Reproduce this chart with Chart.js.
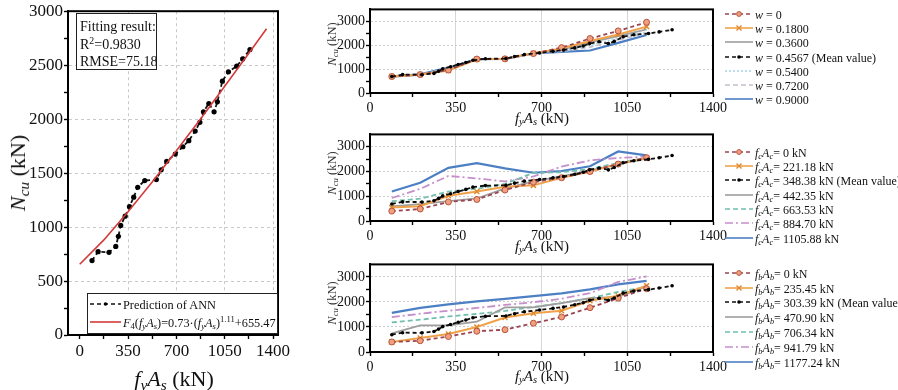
<!DOCTYPE html>
<html><head><meta charset="utf-8">
<script src="https://cdn.jsdelivr.net/npm/chart.js@4.4.0/dist/chart.umd.min.js"></script>
<style>
body{margin:0;width:898px;height:390px;background:#fff;position:relative;overflow:hidden;font-family:'Liberation Serif','Times New Roman',serif;color:#111;}
canvas{position:absolute;}
.t{position:absolute;white-space:nowrap;line-height:1;}
sub,sup{font-size:70%;line-height:0;}
sub{vertical-align:-0.25em;}
sup{vertical-align:0.55em;}
.rot{transform:translate(-50%,-50%) rotate(-90deg);}
.ctr{transform:translate(-50%,-50%);}
.box{position:absolute;border:1.5px solid #222;background:#fff;box-sizing:border-box;}
.leg{position:absolute;font-size:12px;white-space:nowrap;}
.leg svg{position:absolute;left:0;top:-5px;}
.leg span{position:absolute;left:30px;top:-6px;}
</style></head><body>
<canvas id="cL" width="300" height="390" style="left:0;top:0"></canvas>
<canvas id="cT" width="400" height="125" style="left:330px;top:0"></canvas>
<canvas id="cM" width="400" height="130" style="left:330px;top:125px"></canvas>
<canvas id="cB" width="400" height="135" style="left:330px;top:255px"></canvas>
<div id="ov"></div>
<script>
// ---------- DATA ----------
// Left panel: ANN prediction (also the "mean value" curve in every right panel)
const annX = [89,133,212,261,280,297,329,360,391,420,471,555,590,630,692,747,790,836,870,896,935,973,997,1033,1077,1137,1180,1233];
const annY = [690,772,766,821,914,1015,1101,1190,1277,1369,1431,1440,1530,1610,1676,1744,1800,1889,1970,2068,2145,2068,2160,2352,2438,2491,2558,2645];
// Left panel: fitted curve
const fitX = [0,175,350,525,700,875,1050,1225,1353];
const fitY = [655,881,1142,1418,1707,2001,2304,2611,2837];
// Right panels: common x positions (kN)
const gridX = [89,205,320,436,551,667,782,898,1013,1129];
// Top panel (w)
const topW0    = [690,770,960,1420,1430,1650,1900,2280,2600,2960];
const topW018  = [690,770,940,1410,1430,1660,1860,2180,2450,2780];
const topW036  = [680,760,1000,1420,1430,1650,1820,2120,2380,2660];
const topW054  = [680,760,1030,1420,1430,1650,1760,2000,2300,2560];
const topW072  = [680,760,1040,1420,1430,1650,1740,1920,2220,2500];
const topW090  = [700,780,1060,1420,1430,1660,1720,1780,2100,2430];
const topLabels = ['0','0.1800','0.3600','0.4567 (Mean value)','0.5400','0.7200','0.9000'];
// Middle panel (fcAc)
const midFc0    = [400,485,770,870,1250,1570,1750,2000,2300,2560];
const midFc221  = [550,600,1020,1190,1380,1440,1750,2000,2300,2550];
const midFc442  = [590,680,800,910,1320,1600,1800,2050,2300,2520];
const midFc664  = [800,900,1190,1300,1500,1950,1970,2100,2350,2560];
const midFc885  = [930,1300,1820,1720,1600,1800,2200,2450,2550,2600];
const midFc1106 = [1190,1545,2150,2340,2130,1950,2020,2210,2810,2650];
const midLabels = ['0 kN','221.18 kN','348.38 kN (Mean value)','442.35 kN','663.53 kN','884.70 kN','1105.88 kN'];
// Bottom panel (fbAb)
const botFb0    = [400,450,620,830,890,1150,1400,1770,2150,2530];
const botFb235  = [400,560,720,1000,1380,1550,1650,2050,2250,2650];
const botFb471  = [740,1060,1060,1210,1780,1780,1950,2150,2200,2620];
const botFb706  = [1180,1290,1420,1520,1640,1800,1950,2150,2400,2600];
const botFb942  = [1390,1530,1650,1760,1880,1990,2130,2350,2800,3020];
const botFb1177 = [1560,1760,1900,2020,2120,2230,2340,2500,2700,2840];
const botLabels = ['0 kN','235.45 kN','303.39 kN (Mean value)','470.90 kN','706.34 kN','941.79 kN','1177.24 kN'];
// Axis ticks
const leftXTicks = [0,175,350,525,700,875,1050,1225,1400];
const leftYTicks = [0,250,500,750,1000,1250,1500,1750,2000,2250,2500,2750,3000];
const rightXTicks = [0,175,350,525,700,875,1050,1225,1400];
const rightYTicks = [0,500,1000,1500,2000,2500,3000];

// ---------- STYLES ----------
const F = "'Liberation Serif','Times New Roman',serif";
const ST = {
  brown:{color:'#9a4450',dash:[4,3],width:1.8,marker:'circle',fill:'#f0a07c'},
  orange:{color:'#f0a24a',dash:[],width:2,marker:'cross'},
  gray:{color:'#9e9e9e',dash:[],width:1.8},
  mean:{color:'#111',dash:[4,3],width:1.8,marker:'dot'},
  lblue:{color:'#a9d3e6',dash:[2,2],width:1.6},
  lgray:{color:'#c7bfcb',dash:[5,3],width:1.6},
  teal:{color:'#72bfae',dash:[5,3],width:1.8},
  pink:{color:'#c58fcc',dash:[8,3,2,3],width:1.8},
  blue:{color:'#4d7fc4',dash:[],width:2.2}
};

const frame = {id:'frame', afterDraw(c,a,o){const {ctx,chartArea:r}=c;ctx.save();ctx.strokeStyle='#000';ctx.lineWidth=o.w||2;ctx.strokeRect(r.left,r.top,r.right-r.left,r.bottom-r.top);ctx.restore();}};

function axis(opts){
  const {min,max,ticks,major,font,tl,pad,size,isX,gridColor,dash} = opts;
  return {type:'linear',min,max,bounds:'data',
    afterBuildTicks:s=>{s.ticks=ticks.map(v=>({value:v}));},
    afterFit:s=>{ if(isX) s.height=size; else s.width=size; },
    ticks:{autoSkip:false,maxRotation:0,minRotation:0,padding:pad,color:'#111',font:{family:F,size:font},
      callback:v=>(v%major===0?String(v):'')},
    grid:{drawTicks:true,tickLength:tl,tickWidth:1.4,tickColor:'#000',tickBorderDash:[],lineWidth:1,
      color:ctx=>(ctx.tick && ctx.tick.value%major===0 && ctx.tick.value!==0 ? gridColor : 'rgba(0,0,0,0)')},
    border:{display:true,color:'#000',width:2,dash:dash}
  };
}

function ds(xs,ys,st,label,order){
  const d = {label,data:xs.map((x,i)=>({x,y:ys[i]})),borderColor:st.color,backgroundColor:st.color,
    borderWidth:st.width,borderDash:st.dash,pointRadius:0,tension:0,order:order};
  if(st.marker==='circle'){d.pointRadius=3;d.pointStyle='circle';d.pointBackgroundColor=st.fill;d.pointBorderColor='#b5533f';d.pointBorderWidth=1;}
  if(st.marker==='cross'){d.pointRadius=3.5;d.pointStyle='crossRot';d.pointBorderColor='#e08a30';d.pointBorderWidth=1.5;}
  if(st.marker==='dot'){d.pointRadius=1.8;d.pointStyle='circle';d.pointBackgroundColor='#000';d.pointBorderColor='#000';d.pointBorderWidth=0;}
  return d;
}

function makeChart(id,datasets,xA,yA,pad){
  return new Chart(document.getElementById(id),{type:'line',data:{datasets},
    options:{responsive:false,animation:false,devicePixelRatio:1,parsing:true,
      layout:{autoPadding:false,padding:pad},
      plugins:{legend:{display:false},tooltip:{enabled:false},frame:{w:2}},
      scales:{x:xA,y:yA}},plugins:[frame]});
}

// Left chart
makeChart('cL',[
  ds(fitX,fitY,{color:'#d43a3a',dash:[],width:1.6},'fit',0),
  ds(annX,annY,{color:'#111',dash:[4,3],width:1.8,marker:'dot'},'ann',1)
].map((d,i)=>{ if(i===1){d.pointRadius=2.6;} return d;}),
  axis({min:-85,max:1436,ticks:leftXTicks,major:350,font:17,tl:4,pad:2,size:55,isX:true,gridColor:'#c9c9c9',dash:[3,3]}),
  axis({min:0,max:3000,ticks:leftYTicks,major:500,font:17,tl:4,pad:1,size:68,isX:false,gridColor:'#c9c9c9',dash:[3,3]}),
  {left:0,top:10,right:22,bottom:0});

function rightChart(id,series,styles,meanIdx,pad,xh){
  const sets=[];
  styles.forEach((st,i)=>{
    if(i===meanIdx) sets.push(ds(annX,annY,st,'mean',0));
    else sets.push(ds(gridX,series[i],st,'s'+i,i+1));
  });
  makeChart(id,sets,
    axis({min:0,max:1400,ticks:rightXTicks,major:350,font:14,tl:4,pad:3,size:xh,isX:true,gridColor:'#d6d6d6',dash:[]}),
    axis({min:0,max:3500,ticks:rightYTicks,major:1000,font:14,tl:4,pad:1,size:40,isX:false,gridColor:'#cccccc',dash:[2,2]}),
    pad);
}
const topStyles=[ST.brown,ST.orange,ST.gray,ST.mean,ST.lblue,ST.lgray,ST.blue];
const mbStyles=[ST.brown,ST.orange,ST.mean,ST.gray,ST.teal,ST.pink,ST.blue];
rightChart('cT',[topW0,topW018,topW036,null,topW054,topW072,topW090],topStyles,3,{left:0,top:1,right:17,bottom:0},32);
rightChart('cM',[midFc0,midFc221,null,midFc442,midFc664,midFc885,midFc1106],mbStyles,2,{left:0,top:4,right:17,bottom:0},34);
rightChart('cB',[botFb0,botFb235,null,botFb471,botFb706,botFb942,botFb1177],mbStyles,2,{left:0,top:4,right:17,bottom:0},38);

// ---------- HTML TEXT OVERLAYS ----------
const ov=document.getElementById('ov');
function add(html,style,cls){const d=document.createElement('div');d.className=cls||'t';d.innerHTML=html;d.setAttribute('style',style);ov.appendChild(d);return d;}
const NCU='<i>N</i><sub><i>cu</i></sub> (kN)';
const FYAS='<i>f</i><sub><i>y</i></sub><i>A</i><sub><i>s</i></sub> (kN)';
add(NCU,'left:18px;top:173px;font-size:22px;','t rot');
add(FYAS,'left:174px;top:379px;font-size:22px;','t ctr');
[44,173,303].forEach(y=>add(NCU,`left:332px;top:${y}px;font-size:12.5px;color:#333;`,'t rot'));
[118,246,376].forEach(y=>add(FYAS,`left:542px;top:${y}px;font-size:15px;`,'t ctr'));

// fitting result box
add('<div style="padding:4px 0 0 3px;line-height:17.5px;font-size:14px">Fitting result:<br>R<sup>2</sup>=0.9830<br>RMSE=75.18</div>','left:76px;top:13px;width:81px;height:57px;','box');

function sample(st,w){
  w=w||28; const c=w/2;
  let s=`<svg width="${w}" height="10"><line x1="0" y1="5" x2="${w}" y2="5" stroke="${st.color}" stroke-width="${Math.min(st.width,1.6)}" stroke-dasharray="${st.dash.join(' ')}"/>`;
  if(st.marker==='circle') s+=`<circle cx="${c}" cy="5" r="2.4" fill="${st.fill}" stroke="#b5533f" stroke-width="1"/>`;
  if(st.marker==='cross') s+=`<path d="M${c-2.5} 2.5 L${c+2.5} 7.5 M${c+2.5} 2.5 L${c-2.5} 7.5" stroke="#e08a30" stroke-width="1.4"/>`;
  if(st.marker==='dot') s+=`<circle cx="${c}" cy="5" r="1.8" fill="#000"/>`;
  return s+'</svg>';
}
// left legend box
const lg=add('','left:87px;top:293px;width:191px;height:41px;','box');
lg.innerHTML=`<div class="leg" style="left:2px;top:10px;font-size:12.3px">${sample({color:'#111',dash:[4,3],width:1.8,marker:'dot'},31)}<span style="left:33px;top:-6px">Prediction of ANN</span></div>`+
 `<div class="leg" style="left:2px;top:28px;font-size:12.3px">${sample({color:'#d43a3a',dash:[],width:1.6},31)}<span style="left:33px;top:-6px"><i>F</i><sub>4</sub>(<i>f</i><sub><i>y</i></sub><i>A</i><sub><i>s</i></sub>)=0.73·(<i>f</i><sub><i>y</i></sub><i>A</i><sub><i>s</i></sub>)<sup>1.11</sup>+655.47</span></div>`;

function legend(styles,labels,prefix,y0,dy){
  styles.forEach((st,i)=>{
    add(`${sample(st)}<span>${prefix}${labels[i]}</span>`,`left:725px;top:${(y0+i*dy).toFixed(1)}px;`,'leg');
  });
}
legend(topStyles,topLabels,'<i>w</i> = ',14,14.2);
legend(mbStyles,midLabels,'<i>f</i><sub><i>c</i></sub><i>A</i><sub><i>c</i></sub>= ',151.7,14.3);
legend(mbStyles,botLabels,'<i>f</i><sub><i>b</i></sub><i>A</i><sub><i>b</i></sub>= ',272.7,14.8);
</script>
</body></html>
